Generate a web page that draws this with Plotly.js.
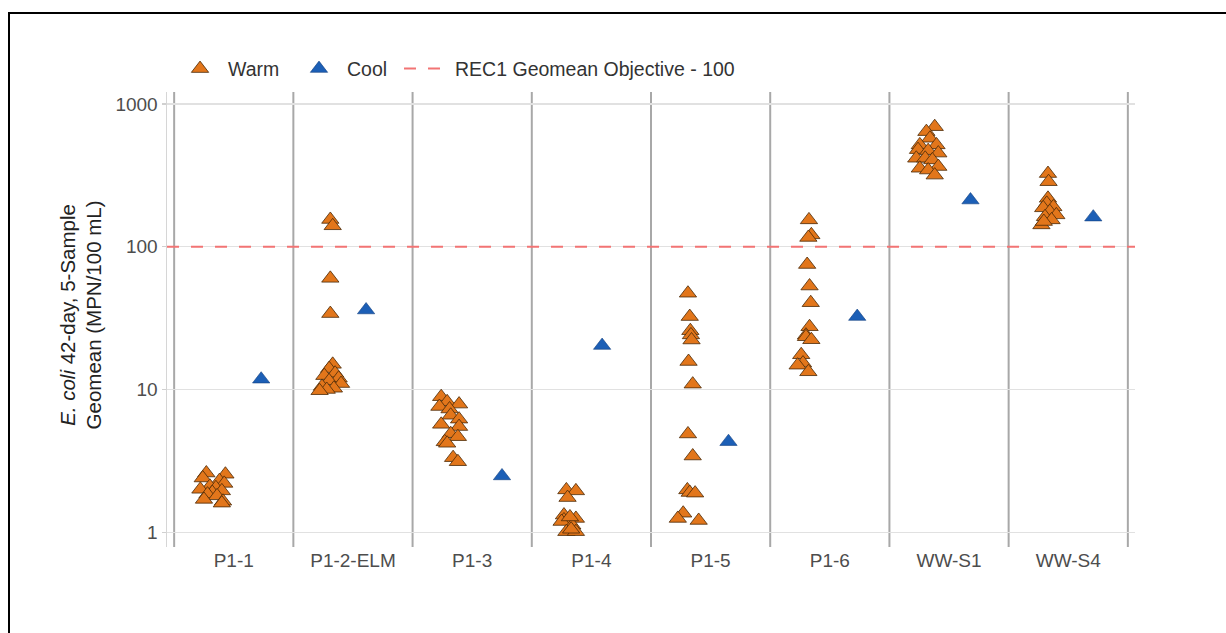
<!DOCTYPE html>
<html>
<head>
<meta charset="utf-8">
<script src="https://cdn.plot.ly/plotly-3.0.1.min.js"></script>
<style>
html,body{margin:0;padding:0;background:#fff;overflow:hidden}
#chart{width:1226px;height:633px;position:absolute;left:0;top:0}
#frame{position:absolute;left:8px;top:12px;width:2000px;height:2000px;border-left:2px solid #000;border-top:2px solid #000;pointer-events:none}
</style>
</head>
<body>
<div id="chart"></div>
<div id="frame"></div>
<script>
// ---- data ----
const categories = ["P1-1", "P1-2-ELM", "P1-3", "P1-4", "P1-5", "P1-6", "WW-S1", "WW-S4"];

// Warm-season 42-day geomeans per site (MPN/100 mL)
const warm_P1_1   = [2.6, 2.55, 2.4, 2.3, 2.2, 2.1, 2.05, 2.0, 1.95, 1.9, 1.85, 1.8, 1.7, 1.65, 1.6];
const warm_P1_2   = [155, 140, 60, 34, 15, 14, 13, 12.5, 12, 11.5, 11, 10.5, 10.2, 10, 9.8];
const warm_P1_3   = [8.9, 8.2, 7.9, 7.6, 7.3, 6.6, 6.2, 5.7, 5.5, 4.9, 4.67, 4.3, 4.2, 3.33, 3.12];
const warm_P1_4   = [1.98, 1.95, 1.75, 1.32, 1.25, 1.22, 1.19, 1.12, 1.01, 1.01, 1.28, 1.05];
const warm_P1_5   = [47.2, 32.4, 25.8, 24.1, 22.2, 15.7, 10.9, 4.88, 3.42, 1.98, 1.9, 1.88, 1.36, 1.25, 1.21];
const warm_P1_6   = [154, 121, 116, 75, 53, 40.5, 27.5, 24, 23.4, 22.3, 17.5, 15.3, 14.8, 13.3];
const warm_WW_S1  = [692, 639, 574, 516, 516, 478, 470, 452, 416, 416, 405, 354, 364, 344, 317];
const warm_WW_S4  = [325, 285, 218, 201, 190, 187, 176, 167, 162, 154, 142, 150];

// horizontal jitter (category units) of each warm point
const jit_P1_1  = [-0.23, -0.07, -0.26, -0.12, -0.08, -0.2, -0.15, -0.28, -0.1, -0.18, -0.22, -0.14, -0.25, -0.09, -0.1];
const jit_P1_2  = [-0.19, -0.17, -0.19, -0.19, -0.17, -0.2, -0.15, -0.24, -0.12, -0.2, -0.1, -0.26, -0.16, -0.22, -0.28];
const jit_P1_3  = [-0.26, -0.21, -0.11, -0.275, -0.19, -0.18, -0.11, -0.26, -0.11, -0.18, -0.12, -0.23, -0.21, -0.16, -0.12];
const jit_P1_4  = [-0.21, -0.13, -0.2, -0.23, -0.13, -0.23, -0.25, -0.16, -0.21, -0.13, -0.18, -0.17];
const jit_P1_5  = [-0.19, -0.175, -0.17, -0.165, -0.16, -0.185, -0.15, -0.19, -0.15, -0.195, -0.175, -0.13, -0.23, -0.275, -0.1];
const jit_P1_6  = [-0.175, -0.155, -0.18, -0.19, -0.17, -0.16, -0.17, -0.2, -0.2, -0.155, -0.24, -0.225, -0.27, -0.18];
const jit_WW_S1 = [-0.12, -0.19, -0.16, -0.245, -0.105, -0.26, -0.175, -0.09, -0.275, -0.2, -0.14, -0.245, -0.09, -0.175, -0.12];
const jit_WW_S4 = [-0.17, -0.165, -0.17, -0.18, -0.125, -0.21, -0.155, -0.1, -0.195, -0.14, -0.225, -0.205];

// Cool-season geomean per site and its jitter
const coolValues = [11.8, 36, 2.48, 20.3, 4.31, 32.4, 212, 161];
const coolJitter = [0.23, 0.11, 0.25, 0.09, 0.15, 0.23, 0.18, 0.21];

const objectiveValue = 100;
const objectiveName = "REC1 Geomean Objective - 100";
const yTickVals = [1, 10, 100, 1000];
const yTickText = ["1", "10", "100", "1000"];

// ---- build traces ----
const warmSets = [warm_P1_1, warm_P1_2, warm_P1_3, warm_P1_4, warm_P1_5, warm_P1_6, warm_WW_S1, warm_WW_S4];
const jitSets  = [jit_P1_1, jit_P1_2, jit_P1_3, jit_P1_4, jit_P1_5, jit_P1_6, jit_WW_S1, jit_WW_S4];
const warmX = [], warmY = [];
warmSets.forEach((vals, i) => {
  vals.forEach((v, j) => { warmX.push(i + 1 + jitSets[i][j]); warmY.push(v); });
});
const coolX = coolValues.map((v, i) => i + 1 + coolJitter[i]);

const xRange = [0.44, categories.length + 0.56];

const traces = [
  {
    x: xRange, y: [objectiveValue, objectiveValue], mode: "lines", name: objectiveName, legend: "legend3",
    line: {color: "#f27474", width: 2, dash: "12px,12px"}, hoverinfo: "skip"
  },
  {
    x: warmX, y: warmY, mode: "markers", name: "Warm", type: "scatter", legend: "legend",
    marker: {symbol: "triangle-up", size: 15, color: "#e2761b", line: {color: "#4a2a08", width: 0.8}}
  },
  {
    x: coolX, y: coolValues, mode: "markers", name: "Cool", type: "scatter", legend: "legend2",
    marker: {symbol: "triangle-up", size: 15, color: "#1c5fb6", line: {color: "#123f80", width: 0.6}}
  }
];

const shapes = [];
for (let k = 0; k <= categories.length; k++) {
  shapes.push({type: "line", xref: "x", yref: "paper", x0: k + 0.5, x1: k + 0.5, y0: 0, y1: 1,
    line: {color: "#a8a8a8", width: 2}, layer: "below"});
}

function legendAt(xpaper) {
  return {
    orientation: "h", x: xpaper, xanchor: "left", y: 1.0507, yanchor: "middle",
    font: {size: 19.5, color: "#333"}, itemwidth: 46, bgcolor: "rgba(0,0,0,0)", borderwidth: 0
  };
}

const layout = {
  width: 1226, height: 633,
  margin: {l: 167, r: 91, t: 92, b: 86},
  paper_bgcolor: "#fff", plot_bgcolor: "#fff",
  font: {family: "Liberation Sans, Arial, sans-serif", color: "#4d4d4d"},
  showlegend: true,
  legend: legendAt(0.0052),
  legend2: legendAt(0.1281),
  legend3: legendAt(0.2397),
  xaxis: {
    range: xRange, tickmode: "array", tickvals: categories.map((c, i) => i + 1), ticktext: categories,
    showgrid: false, zeroline: false, showline: false, ticks: "",
    tickfont: {size: 19, color: "#4d4d4d"}
  },
  yaxis: {
    type: "log", range: [-0.103, 3.083], tickmode: "array", tickvals: yTickVals, ticktext: yTickText,
    showgrid: true, gridcolor: "#e1e1e1", gridwidth: 1.5, zeroline: false,
    showline: true, linecolor: "#d6d6d6", linewidth: 1.5,
    ticks: "outside", ticklen: 4, tickcolor: "#d0d0d0", tickwidth: 1.5,
    tickfont: {size: 19, color: "#4d4d4d"}
  },
  shapes: shapes,
  annotations: [{
    text: "<i>E. coli</i> 42-day, 5-Sample<br>Geomean (MPN/100 mL)",
    xref: "paper", yref: "paper", x: -0.0888, y: 0.509, xanchor: "center", yanchor: "middle",
    textangle: -90, showarrow: false, font: {size: 20.5, color: "#222"}
  }],
  hovermode: false
};

Plotly.newPlot("chart", traces, layout, {staticPlot: true, displayModeBar: false});
</script>
</body>
</html>
